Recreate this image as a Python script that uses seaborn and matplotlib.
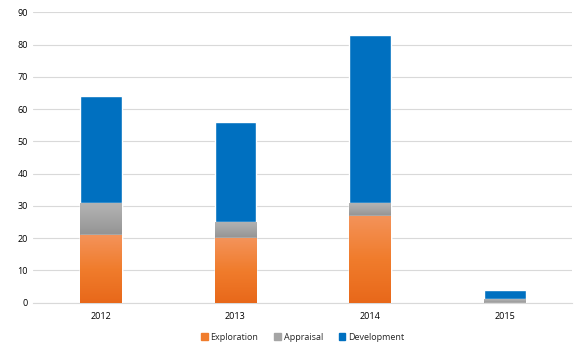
import numpy as np
import pandas as pd
import matplotlib
matplotlib.use('Agg')
import matplotlib.pyplot as plt
from matplotlib.colors import LinearSegmentedColormap
from matplotlib.patches import Patch
import seaborn as sns

years = ['2012', '2013', '2014', '2015']
exploration = [21, 20, 27, 0]
appraisal = [10, 5, 4, 1]
development = [33, 31, 52, 3]

df = pd.DataFrame({'year': years, 'Exploration': exploration,
                   'Appraisal': appraisal, 'Development': development})
df['cum_app'] = df['Exploration'] + df['Appraisal']
df['cum_dev'] = df['cum_app'] + df['Development']

sns.set_style('white')
plt.rcParams['font.family'] = ['Open Sans', 'DejaVu Sans']

fig, ax = plt.subplots(figsize=(5.85, 3.52), dpi=100)
fig.subplots_adjust(left=0.057, right=0.978, top=0.965, bottom=0.14)

blue = '#0070c0'
gray = '#a5a5a5'
orange = '#f07c2c'
w = 0.31

# stacked by drawing cumulative totals back to front
sns.barplot(data=df, x='year', y='cum_dev', color=blue, width=w,
            saturation=1, ax=ax, zorder=2)
n0 = len(ax.patches)
sns.barplot(data=df, x='year', y='cum_app', color=gray, width=w,
            saturation=1, ax=ax, zorder=3)
n1 = len(ax.patches)
sns.barplot(data=df, x='year', y='Exploration', color=orange, width=w,
            saturation=1, ax=ax, zorder=4)

# vertical gradients on orange and gray segments
grad = np.linspace(0, 1, 256).reshape(-1, 1)
cm_or = LinearSegmentedColormap.from_list('o', ['#e8681a', '#f07c2c', '#f4935a'])
cm_gr = LinearSegmentedColormap.from_list('g', ['#939393', '#a5a5a5', '#b4b4b4'])
for i, p in enumerate(ax.patches):
    if i < n0:
        continue
    cmap = cm_gr if i < n1 else cm_or
    x0, y0 = p.get_x(), p.get_y()
    h = p.get_height()
    if h <= 0:
        continue
    if i < n1:
        # gray patch drawn from 0, visible part starts at exploration top
        idx = i - n0
        y0 = exploration[idx]
        h = appraisal[idx]
    im = ax.imshow(grad, extent=[x0, x0 + p.get_width(), y0, y0 + h],
                   origin='lower', cmap=cmap, aspect='auto', zorder=p.get_zorder() + 0.5)
    im.set_clip_path(p)

ax.set_xlim(-0.5, 3.5)
ax.set_ylim(0, 90)
ax.set_yticks(range(0, 91, 10))
ax.yaxis.grid(True, color='#d9d9d9', linewidth=0.8, zorder=0)
ax.set_axisbelow(True)
for s in ['top', 'right', 'left']:
    ax.spines[s].set_visible(False)
ax.spines['bottom'].set_color('#d9d9d9')
ax.set_xlabel('')
ax.set_ylabel('')
ax.tick_params(axis='y', labelsize=6.5, length=0, pad=4)
ax.tick_params(axis='x', labelsize=6.5, length=0, pad=7)
for t in ax.get_xticklabels() + ax.get_yticklabels():
    t.set_color('black')

handles = [Patch(color=orange, label='Exploration'),
           Patch(color=gray, label='Appraisal'),
           Patch(color=blue, label='Development')]
ax.legend(handles=handles, loc='upper center', bbox_to_anchor=(0.5, -0.075),
          ncol=3, frameon=False, fontsize=6.5, handlelength=0.7,
          handleheight=0.7, handletextpad=0.3, columnspacing=1.8)

fig.savefig('out.png', dpi=100)
